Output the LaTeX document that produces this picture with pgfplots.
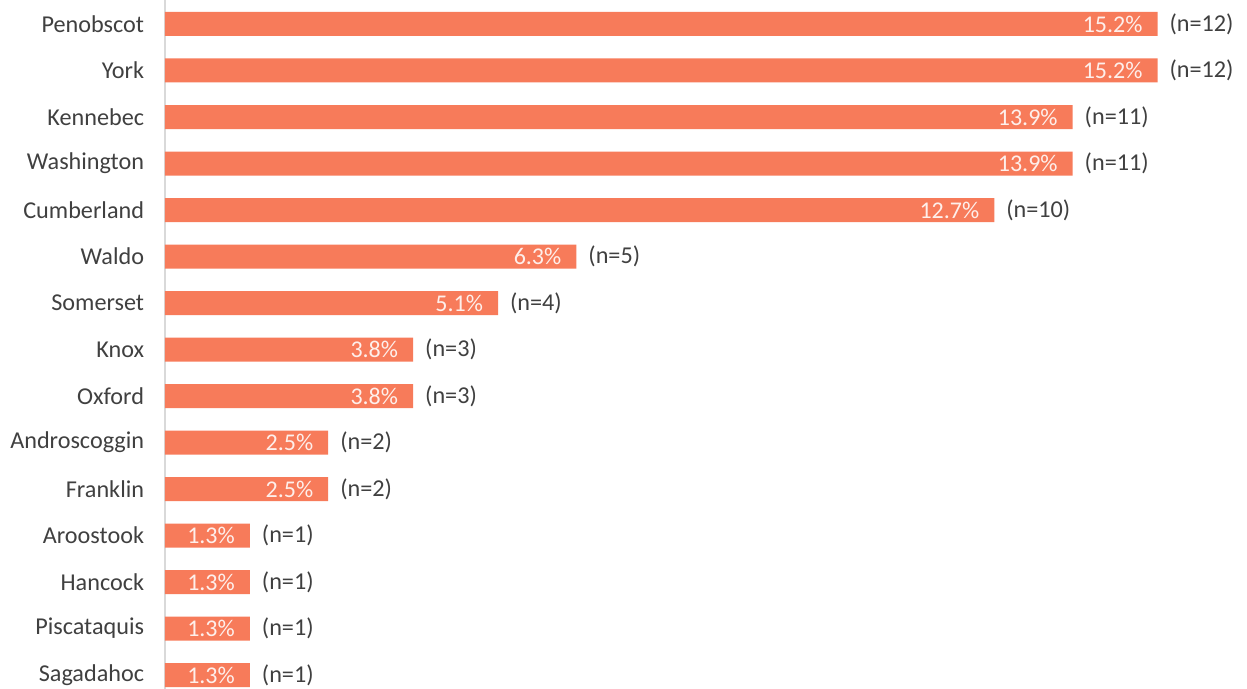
\documentclass[border=0pt]{standalone}
\usepackage{fontspec}
\setmainfont{Carlito}
\usepackage{pgfplots}
\usepackage{pgfplotstable}
\pgfplotsset{compat=1.18}
\definecolor{barc}{RGB}{247,123,90}
\definecolor{txt}{RGB}{64,64,64}
\definecolor{axl}{RGB}{217,217,217}

\pgfplotstableread{
pos val n
0  15.2 12
1  15.2 12
2  13.9 11
3  13.9 11
4  12.7 10
5  6.3  5
6  5.1  4
7  3.8  3
8  3.8  3
9  2.5  2
10 2.5  2
11 1.3  1
12 1.3  1
13 1.3  1
14 1.3  1
}\counties

\begin{document}
\begin{tikzpicture}
\begin{axis}[
    scale only axis,
    width=541pt, height=344.5pt,
    xmin=0, xmax=16.57,
    ymin=-0.516, ymax=14.30,
    y dir=reverse,
    axis x line=none,
    axis y line*=left,
    y axis line style={draw=axl, line width=1pt, -},
    ytick={0,...,14},
    yticklabels={Penobscot,York,Kennebec,Washington,Cumberland,Waldo,Somerset,Knox,Oxford,Androscoggin,Franklin,Aroostook,Hancock,Piscataquis,Sagadahoc},
    ytick style={draw=none},
    yticklabel style={font=\fontsize{12.1}{14}\selectfont, text=txt, anchor=east, inner sep=0pt, xshift=-6pt},
    /pgf/number format/assume math mode=true,
    xbar, bar width=12pt, bar shift=0pt,
    clip=false,
]
\addplot[fill=barc, draw=none,
    point meta=x,
    nodes near coords={\pgfmathprintnumber[fixed,fixed zerofill,precision=1]{\pgfplotspointmeta}\%},
    nodes near coords style={anchor=east, xshift=-4pt, text=white!88!barc, font=\fontsize{12}{14}\selectfont},
] table[x=val, y=pos] {\counties};
\addplot[fill=none, draw=none,
    point meta=explicit,
    nodes near coords={(n=\pgfmathprintnumber[int detect]{\pgfplotspointmeta})},
    nodes near coords style={anchor=west, xshift=2.5pt, text=txt, font=\fontsize{12.1}{14}\selectfont},
] table[x=val, y=pos, meta=n] {\counties};
\end{axis}
\pgfresetboundingbox
\path (current axis.south west) ++(-82.5pt,0) rectangle (current axis.north east);
\end{tikzpicture}
\end{document}
